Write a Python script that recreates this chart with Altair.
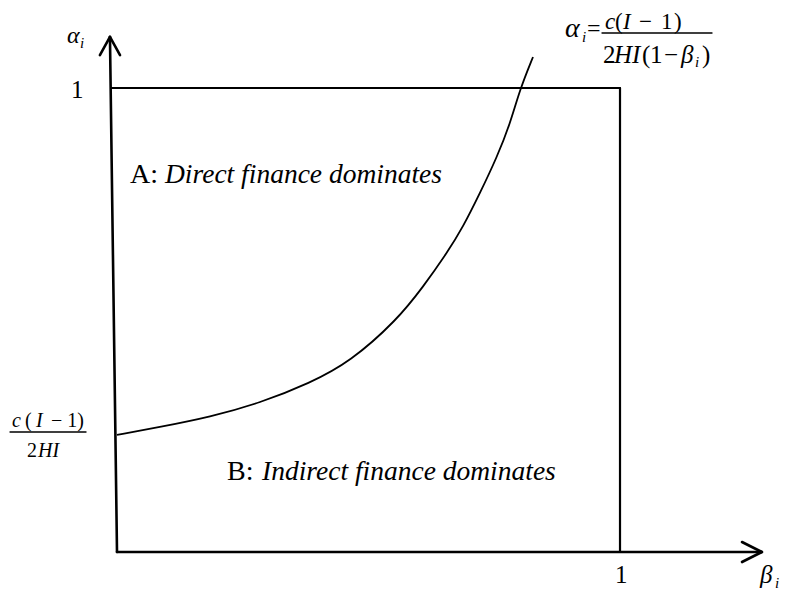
import altair as alt
import pandas as pd

# ---- curve alpha_i(beta_i) (data units) ----
curve_beta = [0.0, 0.0855, 0.1849, 0.2843, 0.3837, 0.4632, 0.5567, 0.6083,
              0.6561, 0.6879, 0.7217, 0.7555, 0.7813, 0.8012, 0.8270]
curve_alpha = [0.2522, 0.2694, 0.2909, 0.3211, 0.3642, 0.4095, 0.5000, 0.5711,
               0.6444, 0.7004, 0.7737, 0.8513, 0.9224, 0.9978, 1.0668]

# ---- axes with arrow heads (segments in data units) ----
axis_x1 = [0.0, -0.014, -0.014, 0.0, 1.282, 1.282]
axis_y1 = [0.0, 1.110, 1.110, 0.0, 0.0, 0.0]
axis_x2 = [-0.014, -0.034, 0.006, 1.282, 1.2425, 1.2425]
axis_y2 = [1.110, 1.071, 1.071, 0.0, 0.0216, -0.0216]

# ---- unit box ----
box_x1 = [-0.012, 1.0]
box_y1 = [1.0, 0.0]
box_x2 = [1.0, 1.0]
box_y2 = [1.0, 1.0]

# ---- fraction bars ----
frac_x1 = [-0.2127, 0.9642]
frac_x2 = [-0.0616, 1.1829]
frac_y = [0.2586, 1.1185]

# ---- text pieces ----
upright_text = ["1", "1", "A:", "B:", "(", "\u2212 1)", "2",
                "=", "(", "\u2212", "1", ")", "2", "(", "1", "\u2212", ")"]
upright_x = [-0.0915, 0.9900, 0.0258, 0.2187, -0.1829, -0.1312, -0.1789,
             0.9344, 0.9901, 1.0378, 1.0815, 1.1074, 0.9662, 1.0437, 1.0596, 1.0875, 1.1630]
upright_y = [0.9784, -0.0668, 0.7953, 0.1552, 0.2694, 0.2694, 0.2047,
             1.1121, 1.1272, 1.1272, 1.1272, 1.1272, 1.0539, 1.0539, 1.0539, 1.0539, 1.0539]
upright_size = [25, 25, 28, 28, 20, 20, 20,
                24, 23, 23, 23, 23, 25, 25, 25, 25, 25]

italic_text = ["\u03b1", "i", "\u03b2", "i", "Direct finance dominates",
               "Indirect finance dominates", "c", "I", "HI",
               "\u03b1", "i", "c", "I", "HI", "\u03b2", "i"]
italic_x = [-0.0994, -0.0736, 1.2783, 1.3082, 0.0954, 0.2883, -0.2087, -0.1610, -0.1571,
            0.8907, 0.9245, 0.9702, 1.0060, 0.9881, 1.1213, 1.1491]
italic_y = [1.0970, 1.0862, -0.0668, -0.0776, 0.7953, 0.1552, 0.2694, 0.2694, 0.2047,
            1.1099, 1.0991, 1.1272, 1.1272, 1.0539, 1.0539, 1.0453]
italic_size = [24, 15, 25, 15, 27.5, 27.5, 20, 20, 20,
               28, 15, 23, 23, 25, 25, 15]

XDOM = [-0.2167, 1.3280]
YDOM = [-0.0905, 1.1724]
xs = alt.Scale(domain=XDOM, nice=False, zero=False)
ys = alt.Scale(domain=YDOM, nice=False, zero=False)
FONT = "Liberation Serif"

def seg_layer(x1, y1, x2, y2, width):
    df = pd.DataFrame({"x": x1, "y": y1, "x2": x2, "y2": y2})
    return alt.Chart(df).mark_rule(color="black", strokeWidth=width, strokeCap="round").encode(
        x=alt.X("x:Q", scale=xs, axis=None),
        y=alt.Y("y:Q", scale=ys, axis=None),
        x2="x2:Q", y2="y2:Q")

axes = seg_layer(axis_x1, axis_y1, axis_x2, axis_y2, 2.6)
box = seg_layer(box_x1, box_y1, box_x2, box_y2, 2.2)
fracs = seg_layer(frac_x1, frac_y, frac_x2, frac_y, 1.3)

curve_df = pd.DataFrame({"beta": curve_beta, "alpha": curve_alpha})
curve = alt.Chart(curve_df).mark_line(color="black", strokeWidth=1.8, interpolate="basis").encode(
    x=alt.X("beta:Q", scale=xs, axis=None),
    y=alt.Y("alpha:Q", scale=ys, axis=None),
    order="beta:Q")

def text_layer(t, x, y, s, style):
    df = pd.DataFrame({"t": t, "x": x, "y": y, "s": s})
    return alt.Chart(df).mark_text(font=FONT, fontStyle=style, align="left",
                                   baseline="alphabetic", color="black").encode(
        x=alt.X("x:Q", scale=xs, axis=None),
        y=alt.Y("y:Q", scale=ys, axis=None),
        text="t:N",
        size=alt.Size("s:Q", scale=None, legend=None))

up = text_layer(upright_text, upright_x, upright_y, upright_size, "normal")
it = text_layer(italic_text, italic_x, italic_y, italic_size, "italic")

chart = alt.layer(box, curve, axes, fracs, up, it).properties(
    width=777, height=586,
    padding=0,
    autosize=alt.AutoSizeParams(type="none"),
    background="white",
).configure_view(stroke=None)

chart.save("out.html", embed_options={"renderer": "svg", "actions": False})
